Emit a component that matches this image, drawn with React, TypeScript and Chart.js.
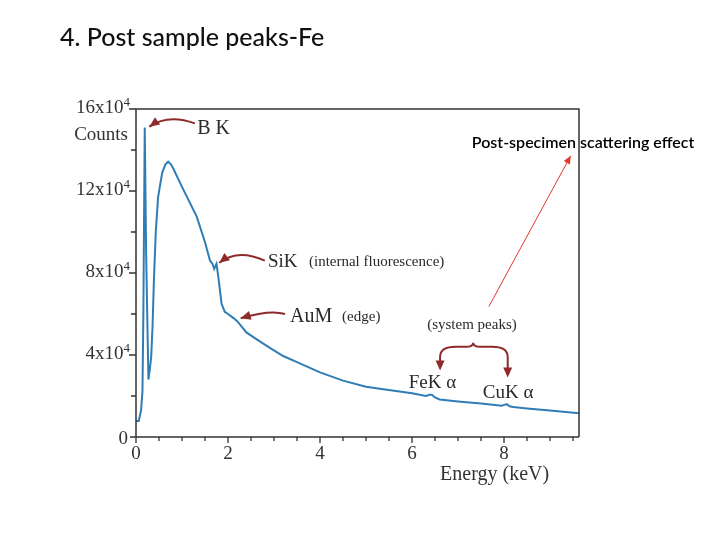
import React, { useEffect, useRef } from "react";
import { Chart, registerables } from "chart.js";

Chart.register(...registerables);

// ---- data ----
const energyKeV = [
  0, 0.06, 0.11, 0.14, 0.16, 0.19, 0.22, 0.27, 0.3, 0.33, 0.36, 0.39, 0.43, 0.48,
  0.57, 0.64, 0.7, 0.76, 0.81, 1.0, 1.32, 1.5, 1.61, 1.66, 1.7, 1.75, 1.79, 1.86,
  1.93, 2.0, 2.12, 2.2, 2.4, 2.6, 2.91, 3.2, 3.5, 4.0, 4.5, 5.0, 5.3, 6.0, 6.3,
  6.38, 6.43, 6.5, 6.6, 7.0, 7.5, 7.95, 8.02, 8.06, 8.12, 8.2, 8.5, 9.0, 9.63,
];
const counts = [
  7800, 7800, 13000, 22000, 60000, 151000, 90000, 28000, 33000, 39000, 54000, 77000,
  100000, 117000, 129000, 133000, 134300, 133000, 131000, 122000, 107500, 95000,
  86000, 84500, 82000, 84500, 78000, 65000, 61000, 60000, 58000, 56500, 51000,
  48000, 43500, 39500, 36500, 31500, 27500, 24500, 23500, 21300, 20000, 20600,
  20600, 19300, 18300, 17300, 16300, 15300, 15800, 16000, 15000, 14600, 13900,
  12900, 11600,
];

const xMajorTicks = [0, 2, 4, 6, 8];
const xTickLabels = ["0", "2", "4", "6", "8"];
const xMinorTicks = [0.5, 1, 1.5, 2.5, 3, 3.5, 4.5, 5, 5.5, 6.5, 7, 7.5, 8.5, 9, 9.5];
const yMajorTicks = [0, 40000, 80000, 120000, 160000];
const yTickLabels = ["0", "4x10^4", "8x10^4", "12x10^4", "16x10^4"];
const yMinorTicks = [20000, 60000, 100000, 140000];

const X_MAX = 9.63;
const Y_MAX = 160000;

const TITLE = "4. Post sample peaks-Fe";
const Y_TITLE = "Counts";
const X_TITLE = "Energy (keV)";
const NOTE = "Post-specimen scattering effect";

const SERIF = "'Liberation Serif', 'DejaVu Serif', serif";
const SANS = "Lato, 'Open Sans', sans-serif";
const AXIS = "#333333";
const ARROW = "#8e2b2b";

function arrowHead(
  ctx: CanvasRenderingContext2D,
  fx: number,
  fy: number,
  tx: number,
  ty: number,
  len: number,
  half: number,
  color: string
) {
  const a = Math.atan2(ty - fy, tx - fx);
  ctx.save();
  ctx.fillStyle = color;
  ctx.beginPath();
  ctx.moveTo(tx, ty);
  ctx.lineTo(tx - len * Math.cos(a) + half * Math.sin(a), ty - len * Math.sin(a) - half * Math.cos(a));
  ctx.lineTo(tx - len * Math.cos(a) - half * Math.sin(a), ty - len * Math.sin(a) + half * Math.cos(a));
  ctx.closePath();
  ctx.fill();
  ctx.restore();
}

const decorPlugin = {
  id: "decor",
  afterDatasetsDraw(chart: any) {
    const ctx: CanvasRenderingContext2D = chart.ctx;
    const xs = chart.scales.x;
    const ys = chart.scales.y;
    const { left, right, top, bottom } = chart.chartArea;
    const X = (v: number) => xs.getPixelForValue(v);
    const Y = (v: number) => ys.getPixelForValue(v);

    ctx.save();
    // frame
    ctx.strokeStyle = AXIS;
    ctx.lineWidth = 1.5;
    ctx.beginPath();
    ctx.moveTo(left, bottom);
    ctx.lineTo(left, top);
    ctx.lineTo(right, top);
    ctx.lineTo(right, bottom);
    ctx.moveTo(left - 6, bottom);
    ctx.lineTo(right, bottom);
    ctx.stroke();

    // x ticks
    ctx.lineWidth = 1.3;
    ctx.beginPath();
    xMajorTicks.forEach((v) => {
      ctx.moveTo(X(v), bottom);
      ctx.lineTo(X(v), bottom + 6);
    });
    xMinorTicks.forEach((v) => {
      ctx.moveTo(X(v), bottom);
      ctx.lineTo(X(v), bottom + 4);
    });
    // y ticks
    yMajorTicks.forEach((v) => {
      if (v === 0) return;
      ctx.moveTo(left, Y(v));
      ctx.lineTo(left - 7, Y(v));
    });
    yMinorTicks.forEach((v) => {
      ctx.moveTo(left, Y(v));
      ctx.lineTo(left - 5, Y(v));
    });
    ctx.stroke();

    // x tick labels
    ctx.fillStyle = AXIS;
    ctx.font = `19px ${SERIF}`;
    ctx.textAlign = "center";
    ctx.textBaseline = "top";
    xMajorTicks.forEach((v, i) => ctx.fillText(xTickLabels[i], X(v), bottom + 8));

    // y tick labels with superscript exponent
    yMajorTicks.forEach((v, i) => {
      const lab = yTickLabels[i];
      const y = Y(v);
      ctx.textBaseline = "alphabetic";
      if (lab.indexOf("^") < 0) {
        ctx.font = `19px ${SERIF}`;
        ctx.textAlign = "right";
        ctx.fillText(lab, left - 8, y + 7);
        return;
      }
      const [main, sup] = lab.split("^");
      ctx.font = `13px ${SERIF}`;
      const supW = ctx.measureText(sup).width;
      const supX = left - 6 - supW;
      ctx.textAlign = "left";
      ctx.fillText(sup, supX, y - 3);
      ctx.font = `19px ${SERIF}`;
      ctx.textAlign = "right";
      ctx.fillText(main, supX, y + 4);
    });

    // axis titles
    ctx.font = `19px ${SERIF}`;
    ctx.textAlign = "right";
    ctx.textBaseline = "alphabetic";
    ctx.fillText(Y_TITLE, left - 8, Y(145000));
    ctx.textAlign = "left";
    ctx.font = `20px ${SERIF}`;
    ctx.fillText(X_TITLE, X(6.61), bottom + 43);

    // annotations (labels)
    ctx.fillStyle = "#2a2a2a";
    ctx.textAlign = "left";
    ctx.font = `20px ${SERIF}`;
    ctx.fillText("B K", X(1.33), Y(147800));
    ctx.font = `19px ${SERIF}`;
    ctx.fillText("SiK", X(2.87), Y(82900));
    ctx.font = `15px ${SERIF}`;
    ctx.fillText("(internal fluorescence)", X(3.76), Y(83400));
    ctx.font = `20px ${SERIF}`;
    ctx.fillText("AuM", X(3.35), Y(56100));
    ctx.font = `15px ${SERIF}`;
    ctx.fillText("(edge)", X(4.48), Y(56600));
    ctx.fillText("(system peaks)", X(6.33), Y(52600));
    ctx.font = `19px ${SERIF}`;
    ctx.fillText("FeK \u03b1", X(5.93), Y(24100));
    ctx.fillText("CuK \u03b1", X(7.54), Y(19000));

    // curved dark-red arrows
    ctx.strokeStyle = ARROW;
    ctx.lineWidth = 2;
    const curved = (s: number[], c: number[], t: number[]) => {
      ctx.beginPath();
      ctx.moveTo(X(s[0]), Y(s[1]));
      ctx.quadraticCurveTo(X(c[0]), Y(c[1]), X(t[0]), Y(t[1]));
      ctx.stroke();
      arrowHead(ctx, X(c[0]), Y(c[1]), X(t[0]), Y(t[1]), 10, 4.5, ARROW);
    };
    curved([1.28, 153000], [0.7, 157800], [0.29, 151400]);
    curved([2.8, 86000], [2.214, 92050], [1.81, 85000]);
    curved([3.24, 60000], [2.925, 62300], [2.276, 57900]);

    // brace with two arrows
    ctx.beginPath();
    ctx.moveTo(X(6.61), Y(35000));
    ctx.lineTo(X(6.61), Y(39000));
    ctx.quadraticCurveTo(X(6.61), Y(44000), X(6.95), Y(44000));
    ctx.lineTo(X(7.18), Y(44000));
    ctx.quadraticCurveTo(X(7.33), Y(44000), X(7.33), Y(46000));
    ctx.quadraticCurveTo(X(7.33), Y(44000), X(7.48), Y(44000));
    ctx.lineTo(X(7.74), Y(44000));
    ctx.quadraticCurveTo(X(8.08), Y(44000), X(8.08), Y(39000));
    ctx.lineTo(X(8.08), Y(31500));
    ctx.stroke();
    arrowHead(ctx, X(6.61), Y(40000), X(6.61), Y(32500), 10, 4.5, ARROW);
    arrowHead(ctx, X(8.08), Y(36000), X(8.08), Y(29000), 10, 4.5, ARROW);

    // thin red pointer line
    ctx.strokeStyle = "#e0392b";
    ctx.lineWidth = 1;
    ctx.beginPath();
    ctx.moveTo(X(7.67), Y(63600));
    ctx.lineTo(X(9.45), Y(137200));
    ctx.stroke();
    arrowHead(ctx, X(7.67), Y(63600), X(9.45), Y(137200), 8, 3.5, "#e0392b");

    // note text
    ctx.fillStyle = "#000000";
    ctx.font = `600 16px ${SANS}`;
    ctx.textAlign = "left";
    ctx.fillText(NOTE, X(7.3), Y(140800));

    // slide title
    ctx.fillStyle = "#111111";
    ctx.font = `500 25px ${SANS}`;
    ctx.fillText(TITLE, 60, 46);
    ctx.restore();
  },
};

export default function App() {
  const ref = useRef<HTMLCanvasElement | null>(null);

  useEffect(() => {
    document.body.style.margin = "0";
    if (!ref.current) return;
    const points = energyKeV.map((e, i) => ({ x: e, y: counts[i] }));
    const chart = new Chart(ref.current, {
      type: "line",
      data: {
        datasets: [
          {
            label: "Counts",
            data: points,
            borderColor: "#2f7db6",
            borderWidth: 2,
            pointRadius: 0,
            tension: 0,
            fill: false,
          },
        ],
      },
      options: {
        animation: false,
        responsive: false,
        devicePixelRatio: 1,
        layout: { padding: { top: 109, right: 141, left: 0, bottom: 0 } },
        plugins: {
          legend: { display: false },
          tooltip: { enabled: false },
          title: { display: false },
        },
        scales: {
          x: {
            type: "linear",
            min: 0,
            max: X_MAX,
            grid: { display: false },
            border: { display: false },
            ticks: { display: false },
            afterFit: (s: any) => {
              s.height = 103;
            },
          },
          y: {
            type: "linear",
            min: 0,
            max: Y_MAX,
            grid: { display: false },
            border: { display: false },
            ticks: { display: false },
            afterFit: (s: any) => {
              s.width = 136;
            },
          },
        },
      },
      plugins: [decorPlugin],
    });
    return () => chart.destroy();
  }, []);

  return (
    <div style={{ position: "absolute", left: 0, top: 0, width: 720, height: 540, background: "#fff" }}>
      <canvas ref={ref} width={720} height={540} style={{ width: 720, height: 540 }} />
    </div>
  );
}
